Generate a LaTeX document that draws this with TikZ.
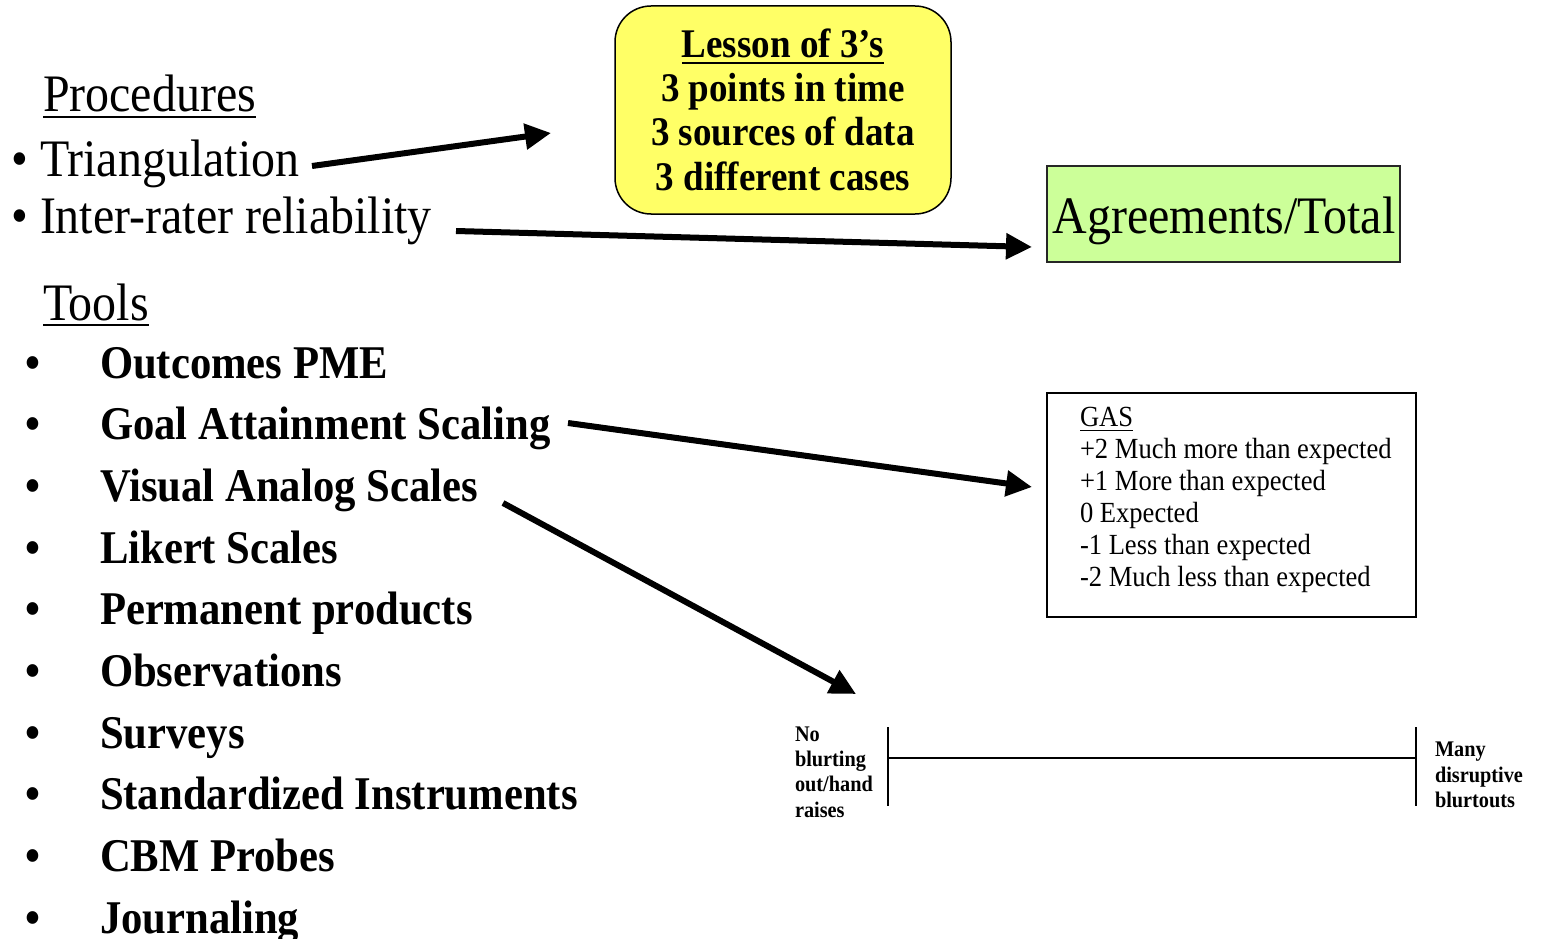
\documentclass[tikz,border=0pt]{standalone}
\usepackage{fontspec}
\setmainfont{Liberation Serif}[FakeStretch=0.91]
\usetikzlibrary{arrows.meta}

\definecolor{lessonyellow}{RGB}{255,255,102}
\definecolor{ratiogreen}{RGB}{204,255,153}

\begin{document}
\begin{tikzpicture}[x=1pt,y=-1pt,
  txt/.style={anchor=base west, inner sep=0pt, outer sep=0pt},
  ctxt/.style={anchor=base, inner sep=0pt, outer sep=0pt},
  big/.style={txt, font=\fontsize{52.7}{60}\selectfont},
  tool/.style={txt, font=\fontsize{46.9}{52}\selectfont\bfseries},
  lesson/.style={ctxt, font=\fontsize{40.7}{46}\selectfont\bfseries},
  gas/.style={txt, font=\fontsize{29.2}{33}\selectfont},
  pole/.style={txt, font=\fontsize{22.3}{25}\selectfont\bfseries},
  fat/.style={line width=6pt, -{Triangle[length=26pt,width=25pt]}},
  uline/.style={line width=1.6pt},
]
\useasboundingbox (0,0) rectangle (1542,939);

% ---- Procedures ----
\node[big] (proc) at (43,112) {Procedures};
\draw[uline] ([yshift=-5pt]proc.base west) -- ([yshift=-5pt]proc.base east);
\node[big] (pb1) at (11,176) {•};
\node[big] (tri) at (40,176) {Triangulation};
\node[big] (pb2) at (11,233) {•};
\node[big] (irr) at (40,233) {Inter-rater reliability};

% ---- Tools ----
\node[big] (tools) at (43,320) {Tools};
\draw[uline] ([yshift=-5pt]tools.base west) -- ([yshift=-5pt]tools.base east);
\foreach \item [count=\i] in {Outcomes PME, Goal Attainment Scaling,
    Visual Analog Scales, Likert Scales, Permanent products, Observations,
    Surveys, Standardized Instruments, CBM Probes, Journaling} {
  \node[tool] (tb\i) at (25,{378+61.7*(\i-1)}) {•};
  \node[tool] (t\i) at (100,{378+61.7*(\i-1)}) {\item};
}

% ---- Lesson of 3's ----
\node[draw=black, line width=1.5pt, fill=lessonyellow, rounded corners=36pt,
      minimum width=336pt, minimum height=208pt] (lessonbox) at (783,110) {};
\node[lesson] (l0) at (783,58) {Lesson of 3’s};
\draw[uline, line width=2pt] ([yshift=-5pt]l0.base west) -- ([yshift=-5pt]l0.base east);
\node[lesson] (l1) at (783,102) {3 points in time};
\node[lesson] (l2) at (783,146) {3 sources of data};
\node[lesson] (l3) at (783,190) {3 different cases};

% ---- Agreements/Total ----
\node[draw=black!85, line width=1.2pt, fill=ratiogreen,
      minimum width=353pt, minimum height=96pt] (agbox) at (1223.5,214) {};
\node[big, anchor=base] (ag) at (1224,233) {Agreements/Total};

% ---- GAS scale ----
\node[draw=black, line width=1.5pt, minimum width=369pt, minimum height=224pt]
      (gasbox) at (1231.5,505) {};
\node[gas] (g0) at (1080,426) {GAS};
\draw[line width=1pt] ([yshift=-4pt]g0.base west) -- ([yshift=-4pt]g0.base east);
\node[gas] (g1) at (1080,458) {+2 Much more than expected};
\node[gas] (g2) at (1080,490) {+1 More than expected};
\node[gas] (g3) at (1080,522) {0 Expected};
\node[gas] (g4) at (1080,554) {-1 Less than expected};
\node[gas] (g5) at (1080,586) {-2 Much less than expected};

% ---- Visual analog scale ----
\coordinate (vl) at (888,758);
\coordinate (vr) at (1416,758);
\draw[line width=2pt] (vl) -- (vr);
\draw[line width=1.5pt] ([yshift=31pt]vl) -- ([yshift=-48pt]vl);
\draw[line width=1.5pt] ([yshift=31pt]vr) -- ([yshift=-48pt]vr);
\node[pole] (n1) at (795,741) {No};
\node[pole] (n2) at (795,766) {blurting};
\node[pole] (n3) at (795,791) {out/hand};
\node[pole] (n4) at (795,817) {raises};
\node[pole] (m1) at (1435,756) {Many};
\node[pole] (m2) at (1435,782) {disruptive};
\node[pole] (m3) at (1435,807) {blurtouts};

% ---- Arrows ----
\coordinate (triS) at (312,166);
\coordinate (triE) at (551,133);
\coordinate (irrS) at (456,231);
\coordinate (irrE) at (1032,247);
\coordinate (gasS) at (568,423);
\coordinate (gasE) at (1032,487);
\coordinate (vasS) at (503,503);
\coordinate (vasE) at (856,694);
\draw[fat] (triS) -- (triE);
\draw[fat] (irrS) -- (irrE);
\draw[fat] (gasS) -- (gasE);
\draw[fat] (vasS) -- (vasE);
\end{tikzpicture}
\end{document}
